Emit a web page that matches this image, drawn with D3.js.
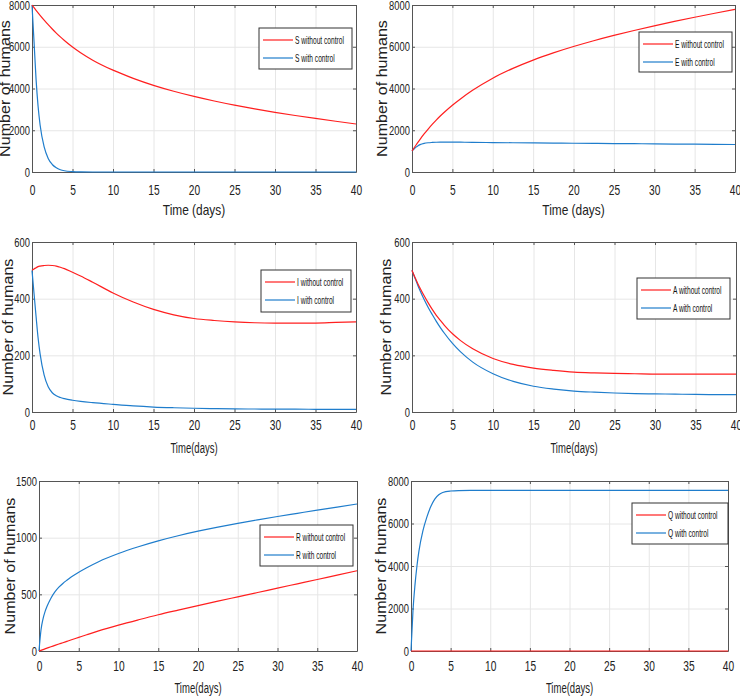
<!DOCTYPE html>
<html>
<head>
<meta charset="utf-8">
<script src="https://cdn.jsdelivr.net/npm/d3@7"></script>
<style>
body { margin: 0; background: #fff; }
svg { display: block; font-family: "Liberation Sans", Arial, sans-serif; }
</style>
</head>
<body>
<svg id="chart" width="740" height="697"></svg>
<script>
// sample times (days), shared by every series
var days = [0, 0.25, 0.5, 0.75, 1, 1.5, 2, 2.5, 3, 3.5, 4, 5, 6, 7.5, 10, 12.5, 15, 17.5, 20, 22.5, 25, 27.5, 30, 32.5, 35, 37.5, 40];

// values
var sWithout = [8000, 7872, 7746, 7624, 7504, 7274, 7056, 6850, 6656, 6472, 6300, 5988, 5714, 5358, 4878, 4486, 4152, 3868, 3620, 3400, 3200, 3021, 2858, 2708, 2566, 2430, 2299];
var sWith    = [8000, 6250, 4450, 3150, 2250, 1200, 650, 360, 200, 110, 60, 20, 6, 1, 0, 0, 0, 0, 0, 0, 0, 0, 0, 0, 0, 0, 0];
var eWithout = [1000, 1150, 1295, 1435, 1567, 1821, 2059, 2282, 2489, 2683, 2864, 3200, 3500, 3912, 4495, 4965, 5362, 5705, 6010, 6287, 6542, 6779, 7003, 7214, 7414, 7605, 7789];
var eWith    = [1000, 1100, 1190, 1260, 1310, 1370, 1400, 1415, 1425, 1430, 1432, 1430, 1428, 1420, 1410, 1400, 1392, 1385, 1378, 1370, 1362, 1355, 1348, 1340, 1333, 1325, 1318];
var iWithout = [500, 505, 509, 513, 515, 517, 518, 517, 515, 511, 506, 493, 480, 458, 420, 388, 362, 343, 330, 323, 318, 315, 314, 314, 314, 316, 318];
var iWith    = [500, 418, 338, 262, 205, 130, 89, 68, 57, 51, 47, 41.5, 37.5, 33, 27, 21.5, 17.5, 15, 13.2, 12, 11, 10.5, 10, 10, 9.5, 9, 9];
var aWithout = [500, 483, 467, 451, 437, 410, 385, 362, 341, 323, 306, 276, 252, 223, 189, 168, 155, 147, 141, 138, 136, 135, 134, 134, 134, 134, 134];
var aWith    = [500, 481, 463, 445, 428, 397, 369, 344, 320, 298, 278, 242, 212, 176, 135, 108, 91, 81, 74, 70, 67, 65, 64, 63, 62, 61.5, 61];
var rWithout = [0, 6, 12.5, 19, 25, 37, 49.5, 61.5, 73, 85, 97, 120, 143, 177, 228, 275, 320, 361, 401, 440, 478, 516, 555, 593, 631, 670, 708];
var rWith    = [0, 185, 282, 345, 392, 466, 521, 563, 596, 624, 650, 695, 735, 788, 860, 920, 972, 1017, 1057, 1093, 1126, 1157, 1187, 1215, 1243, 1270, 1297];
var qWithout = [0, 0, 0, 0, 0, 0, 0, 0, 0, 0, 0, 0, 0, 0, 0, 0, 0, 0, 0, 0, 0, 0, 0, 0, 0, 0, 0];
var qWith    = [0, 1900, 3100, 4000, 4700, 5650, 6300, 6800, 7150, 7350, 7460, 7530, 7550, 7555, 7555, 7555, 7555, 7555, 7555, 7555, 7555, 7555, 7555, 7555, 7555, 7555, 7555];

// tick labels
var xTicks = [0, 5, 10, 15, 20, 25, 30, 35, 40];
var yTicks8000 = [0, 2000, 4000, 6000, 8000];
var yTicks600 = [0, 200, 400, 600];
var yTicks1500 = [0, 500, 1000, 1500];

var red = "#ff1f1f";
var blue = "#1f7dcc";

var panels = [
  {name: "S", without: sWithout, withC: sWith, yMax: 8000, yTicks: yTicks8000, xTitle: "Time (days)", xTitleScale: 0.85,
   left: 32, right: 356, top: 5, bottom: 172, yTitleX: 6, xTitleY: 215, tickPad: 12, legend: [259, 28, 93, 41]},
  {name: "E", without: eWithout, withC: eWith, yMax: 8000, yTicks: yTicks8000, xTitle: "Time (days)", xTitleScale: 0.85,
   left: 412, right: 735, top: 5, bottom: 172, yTitleX: 383, xTitleY: 215, tickPad: 12, legend: [639, 32, 93, 40]},
  {name: "I", without: iWithout, withC: iWith, yMax: 600, yTicks: yTicks600, xTitle: "Time(days)", xTitleScale: 0.68,
   left: 32, right: 356, top: 242, bottom: 412, yTitleX: 9, xTitleY: 453, tickPad: 7, legend: [261, 270, 90, 42]},
  {name: "A", without: aWithout, withC: aWith, yMax: 600, yTicks: yTicks600, xTitle: "Time(days)", xTitleScale: 0.68,
   left: 412, right: 736, top: 242, bottom: 412, yTitleX: 387, xTitleY: 453, tickPad: 7, legend: [637, 278, 93, 41]},
  {name: "R", without: rWithout, withC: rWith, yMax: 1500, yTicks: yTicks1500, xTitle: "Time(days)", xTitleScale: 0.68,
   left: 39, right: 357, top: 481, bottom: 651, yTitleX: 11, xTitleY: 693, tickPad: 9, legend: [260, 525, 93, 41]},
  {name: "Q", without: qWithout, withC: qWith, yMax: 8000, yTicks: yTicks8000, xTitle: "Time(days)", xTitleScale: 0.68,
   left: 411, right: 728, top: 481, bottom: 651, yTitleX: 382, xTitleY: 693, tickPad: 9, legend: [632, 503, 96, 41]}
];

var svg = d3.select("#chart");

panels.forEach(function(p) {
  var w = p.right - p.left;
  var h = p.bottom - p.top;
  var x = d3.scaleLinear().domain([0, 40]).range([0, w]);
  var y = d3.scaleLinear().domain([0, p.yMax]).range([h, 0]);

  var g = svg.append("g").attr("transform", `translate(${p.left},${p.top})`);

  // grid
  g.append("g")
    .attr("class", "grid")
    .attr("transform", `translate(0,${h})`)
    .call(d3.axisBottom(x).tickValues(xTicks).tickSize(-h).tickFormat(""));
  g.append("g")
    .attr("class", "grid")
    .call(d3.axisLeft(y).tickValues(p.yTicks).tickSize(-w).tickFormat(""));
  g.selectAll(".grid line").attr("stroke", "#e6e6e6").attr("stroke-width", 1);
  g.selectAll(".grid .domain").remove();

  // box + inward ticks on all four sides
  var bottomAx = g.append("g").attr("transform", `translate(0,${h})`)
    .call(d3.axisBottom(x).tickValues(xTicks).tickSizeInner(-3).tickSizeOuter(0).tickPadding(p.tickPad));
  var leftAx = g.append("g")
    .call(d3.axisLeft(y).tickValues(p.yTicks).tickFormat(d3.format("d"))
      .tickSizeInner(-3).tickSizeOuter(0).tickPadding(3));
  g.append("g")
    .call(d3.axisTop(x).tickValues(xTicks).tickSizeInner(-3).tickSizeOuter(0).tickFormat(""));
  g.append("g").attr("transform", `translate(${w},0)`)
    .call(d3.axisRight(y).tickValues(p.yTicks).tickSizeInner(-3).tickSizeOuter(0).tickFormat(""));
  g.selectAll(".domain").attr("stroke", "#555");
  g.selectAll(".tick line").filter(function() { return !this.closest(".grid"); }).attr("stroke", "#555");

  bottomAx.selectAll("text")
    .attr("font-size", 15).attr("fill", "#222")
    .attr("font-family", "Liberation Sans, Arial, sans-serif")
    .attr("transform", "scale(0.68,1)");
  leftAx.selectAll("text")
    .attr("font-size", 13).attr("fill", "#222")
    .attr("font-family", "Liberation Sans, Arial, sans-serif")
    .attr("transform", "scale(0.72,1)");

  // curves
  var line = d3.line()
    .x(function(d, i) { return x(days[i]); })
    .y(function(d) { return y(d); })
    .curve(d3.curveMonotoneX);
  g.append("path").datum(p.withC)
    .attr("d", line).attr("fill", "none").attr("stroke", blue).attr("stroke-width", 1.2);
  g.append("path").datum(p.without)
    .attr("d", line).attr("fill", "none").attr("stroke", red).attr("stroke-width", 1.2);

  // axis titles
  svg.append("text")
    .attr("transform", `translate(${(p.left + p.right) / 2},${p.xTitleY}) scale(${p.xTitleScale},1)`)
    .attr("text-anchor", "middle")
    .attr("font-size", 14).attr("fill", "#222")
    .text(p.xTitle);
  svg.append("text")
    .attr("transform", `translate(${p.yTitleX + 4},${(p.top + p.bottom) / 2}) rotate(-90) scale(1.15,1)`)
    .attr("text-anchor", "middle")
    .attr("font-size", 14).attr("fill", "#222")
    .text("Number of humans");

  // legend
  var L = p.legend;
  var lg = svg.append("g").attr("transform", `translate(${L[0]},${L[1]})`);
  lg.append("rect").attr("width", L[2]).attr("height", L[3])
    .attr("fill", "#fff").attr("stroke", "#333").attr("stroke-width", 1);
  var items = [[p.name + " without control", red], [p.name + " with control", blue]];
  items.forEach(function(it, k) {
    var yy = 12 + k * 18;
    lg.append("line").attr("x1", 4).attr("x2", 34).attr("y1", yy).attr("y2", yy)
      .attr("stroke", it[1]).attr("stroke-width", 1.2);
    lg.append("text")
      .attr("transform", `translate(36,${yy + 3.5}) scale(0.63,1)`)
      .attr("font-size", 10.5).attr("fill", "#111")
      .text(it[0]);
  });
});
</script>
</body>
</html>
